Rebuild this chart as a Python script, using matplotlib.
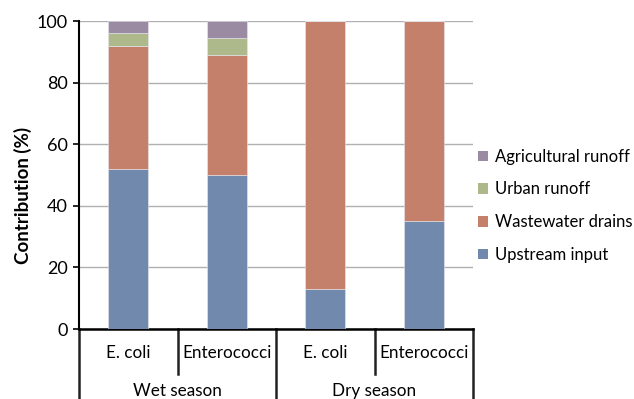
import numpy as np
import matplotlib
matplotlib.use("Agg")
import matplotlib.pyplot as plt
from matplotlib.patches import Patch
from matplotlib.lines import Line2D

plt.rcParams["font.family"] = ["Lato", "DejaVu Sans"]

# source contributions (%) per indicator and season
indicators = ["E. coli", "Enterococci", "E. coli", "Enterococci"]
seasons = ["Wet season", "Dry season"]
upstream = [52, 50, 13, 35]
wastewater = [40, 39, 87, 65]
urban = [4, 5.5, 0, 0]
agricultural = [4, 5.5, 0, 0]

series = [
    ("Upstream input", upstream, "#7089ad"),
    ("Wastewater drains", wastewater, "#c4806a"),
    ("Urban runoff", urban, "#adb98b"),
    ("Agricultural runoff", agricultural, "#9a8aa2"),
]

fig = plt.figure(figsize=(6.34, 3.99), dpi=100)
ax = fig.add_axes([0.1246, 0.1754, 0.6215, 0.7719])

x = np.arange(len(indicators))
bottom = np.zeros(len(indicators))
for name, vals, col in series:
    vals = np.array(vals, dtype=float)
    ax.bar(x, vals, 0.41, bottom=bottom, color=col, edgecolor="#e8e8ee",
           linewidth=0.4, zorder=3)
    bottom += vals

ax.set_xlim(-0.5, len(indicators) - 0.5)
ax.set_ylim(0, 100)
ax.set_yticks(range(0, 101, 20))
ax.tick_params(axis="y", labelsize=13, length=4, width=1.2, direction="out",
               colors="black", pad=4)
ax.yaxis.grid(True, color="#b0b0b0", linewidth=1.0, zorder=0)
ax.set_ylabel("Contribution (%)", fontsize=13.5, fontweight="bold")
ax.yaxis.set_label_coords(-0.119, 0.435)

for side in ["top", "right"]:
    ax.spines[side].set_visible(False)
ax.spines["left"].set_linewidth(1.5)
ax.spines["bottom"].set_linewidth(1.8)

# two-level category axis
ax.set_xticks([])
trans = ax.get_xaxis_transform()
for i, lab in enumerate(indicators):
    ax.text(i, -0.077, lab, transform=trans, ha="center", va="center",
            fontsize=12.3)
for g, lab in enumerate(seasons):
    ax.text(2 * g + 0.5, -0.2, lab, transform=trans, ha="center",
            va="center", fontsize=12.3)
for b in np.arange(-0.5, len(indicators), 1.0):
    full = (b + 0.5) % 2 == 0
    y_end = -0.23 if full else -0.146
    ax.add_line(Line2D([b, b], [0, y_end], transform=trans, color="#222222",
                       linewidth=1.8, clip_on=False))

handles = [Patch(facecolor=col, label=name) for name, _, col in series][::-1]
ax.legend(handles=handles, loc="center left", bbox_to_anchor=(1.0, 0.40),
          frameon=False, fontsize=12, handlelength=0.6, handleheight=0.6,
          handletextpad=0.4, labelspacing=1.0, borderaxespad=0.0,
          borderpad=0.3)

fig.savefig("out.png", dpi=100)
